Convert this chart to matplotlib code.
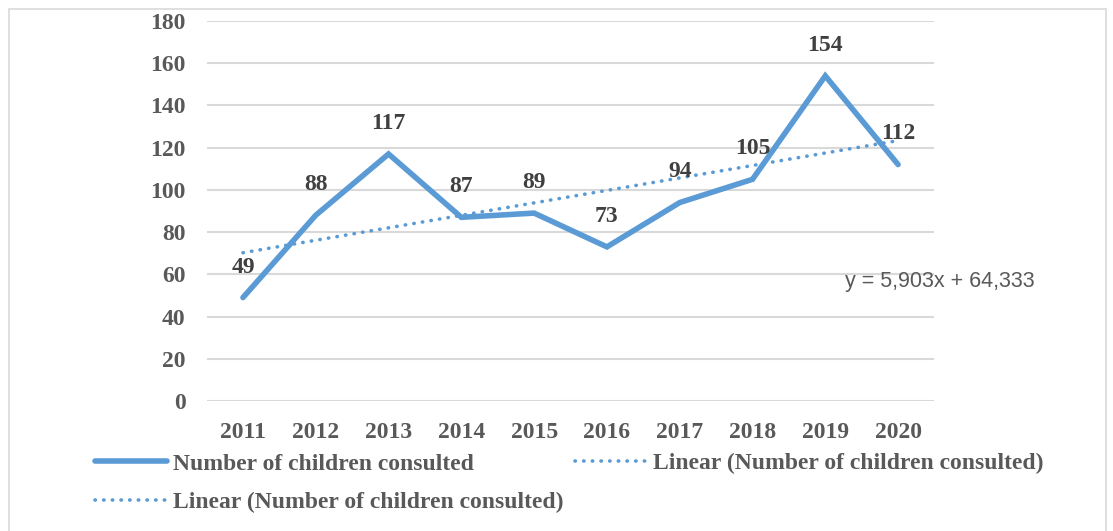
import matplotlib.pyplot as plt
from matplotlib.patches import Rectangle
from matplotlib.lines import Line2D
import numpy as np

years = ["2011", "2012", "2013", "2014", "2015", "2016", "2017", "2018", "2019", "2020"]
children = [49, 88, 117, 87, 89, 73, 94, 105, 154, 112]
# linear trend as printed on the chart (Excel style, comma decimals)
trend_slope = 5.903
trend_intercept = 64.333
y_ticks = [0, 20, 40, 60, 80, 100, 120, 140, 160, 180]

line_color = "#5b9bd5"
text_color = "#595959"
label_color = "#404040"
grid_color = "#d9d9d9"
serif = "Liberation Serif"
dotted = (0, (0.1, 2.3))

fig = plt.figure(figsize=(11.13, 5.31), dpi=100)
ax = fig.add_axes([0.1856, 0.2448, 0.654, 0.7157])

# outer chart border
fig.patches.append(
    Rectangle((9 / 1113, -0.05), 1097 / 1113, 1 - 9 / 531 + 0.05,
              transform=fig.transFigure, fill=False, edgecolor="#d9d9d9", linewidth=1.2)
)

x = np.arange(1, len(years) + 1)
ax.plot(x, children, color=line_color, linewidth=4.0, solid_capstyle="round",
        solid_joinstyle="miter", zorder=3)

trend = trend_slope * x + trend_intercept
ax.plot(x, trend, color=line_color, linewidth=2.6, linestyle=dotted,
        dash_capstyle="round", zorder=2)

for xi, v in zip(x, children):
    ax.annotate(str(v), (xi, v), xytext=(0, 22), textcoords="offset points",
                ha="center", va="center", fontsize=17, fontweight="bold",
                family=serif, color=label_color, zorder=4)

eq = "y = {:.3f}x + {:.3f}".format(trend_slope, trend_intercept).replace(".", ",")
fig.text(845 / 1113, 1 - 282 / 531, eq, fontsize=15.5,
         family="Liberation Sans", color=text_color, ha="left", va="center")

ax.set_xlim(0.5, len(years) + 0.5)
ax.set_ylim(0, 180)
ax.set_yticks(y_ticks)
ax.set_xticks(x)
ax.set_xticklabels(years)
ax.grid(axis="y", color=grid_color, linewidth=1.5)
ax.set_axisbelow(True)
for s in ax.spines.values():
    s.set_visible(False)
ax.tick_params(axis="both", length=0, labelsize=17, labelcolor=text_color)
ax.tick_params(axis="y", pad=15)
ax.tick_params(axis="x", pad=15)
for lbl in ax.get_xticklabels() + ax.get_yticklabels():
    lbl.set_family(serif)
    lbl.set_fontweight("bold")

handles = [
    Line2D([], [], color=line_color, linewidth=4.0, solid_capstyle="round"),
    Line2D([], [], color=line_color, linewidth=2.6, linestyle=dotted,
           dash_capstyle="round"),
    Line2D([], [], color=line_color, linewidth=2.6, linestyle=dotted,
           dash_capstyle="round"),
]
labels = ["Number of children consulted",
          "Linear (Number of children consulted)",
          "Linear (Number of children consulted)"]
fig.legend(handles, labels, loc="upper left", bbox_to_anchor=(95 / 1113, 1 - 453 / 531),
           ncol=2, frameon=False, borderpad=0, borderaxespad=0,
           handlelength=3.05, handletextpad=0.25, columnspacing=0.5,
           labelspacing=0.73, labelcolor=text_color,
           prop={"family": serif, "weight": "bold", "size": 17})

fig.savefig("out.png", dpi=100)
